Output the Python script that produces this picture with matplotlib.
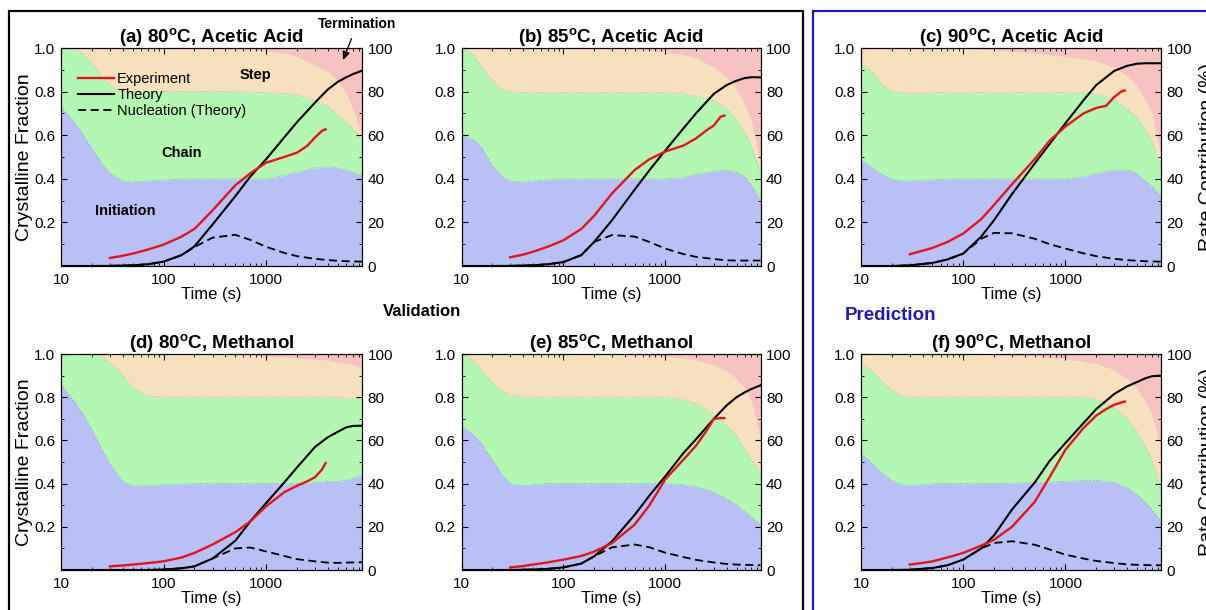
import matplotlib
matplotlib.use("Agg")
import matplotlib.pyplot as plt
from matplotlib.ticker import MultipleLocator, LogLocator, NullFormatter
from matplotlib.patches import Rectangle

plt.rcParams['font.family'] = ['Liberation Sans', 'DejaVu Sans']
plt.rcParams['mathtext.fontset'] = 'custom'
plt.rcParams['mathtext.rm'] = 'Liberation Sans'
plt.rcParams['mathtext.bf'] = 'Liberation Sans:bold'
plt.rcParams['mathtext.it'] = 'Liberation Sans:italic'

# ---------------- data ----------------
TITLES = ["(a) 80$^{\\mathbf{o}}$C, Acetic Acid", "(b) 85$^{\\mathbf{o}}$C, Acetic Acid",
          "(c) 90$^{\\mathbf{o}}$C, Acetic Acid", "(d) 80$^{\\mathbf{o}}$C, Methanol",
          "(e) 85$^{\\mathbf{o}}$C, Methanol", "(f) 90$^{\\mathbf{o}}$C, Methanol"]

X_TICKS = [10, 100, 1000]
X_TICK_LABELS = ["10", "100", "1000"]
Y_TICKS = [0.2, 0.4, 0.6, 0.8, 1.0]
Y_TICK_LABELS = ["0.2", "0.4", "0.6", "0.8", "1.0"]
Y2_TICKS = [0, 20, 40, 60, 80, 100]
Y2_TICK_LABELS = ["0", "20", "40", "60", "80", "100"]

# time grid for rate-contribution areas (s)
T_AREA = [10, 13, 16, 20, 25, 30, 40, 50, 70, 100, 200, 500, 1000, 1500, 2000, 3000, 4000, 5000, 6000, 7000, 8600]
# cumulative upper boundaries (%) : Initiation, +Chain, +Step ; Termination fills the rest to 100
INIT_TOP = [
    [73, 67, 61, 54, 47, 42.5, 39, 38.5, 39, 39.5, 40, 40, 40, 41.5, 43, 45, 45.5, 45, 44, 43, 41.5],
    [60, 58, 54, 46, 41, 39, 38.5, 39, 39.5, 40, 40, 40, 40, 40.5, 42, 43.5, 44, 43, 41, 37, 30],
    [48.5, 45, 42, 40, 39, 39, 39.5, 39.5, 40, 40, 40, 40, 40, 41, 42.5, 44, 44, 42.5, 39, 36.5, 32],
    [86, 79, 73, 65, 56, 49, 41, 39, 39, 39.5, 40, 40, 40, 40, 40, 40.5, 41, 41, 41.5, 42.5, 44],
    [66.5, 63, 58, 51, 44, 40, 39, 39.5, 40, 40, 40, 40, 40, 39.5, 38.5, 36, 33, 30, 27, 24.5, 21],
    [54, 49, 45, 41.5, 39.5, 39, 39.5, 40, 40, 40, 40, 40.5, 41, 41.5, 41.5, 40.5, 38, 35, 31.5, 28, 22.5],
]
CHAIN_TOP = [
    [100, 100, 98, 93, 87, 82.5, 80, 80, 80, 80, 80, 80, 79.5, 79, 78.5, 76, 73, 69, 66, 63, 58],
    [100, 97, 91, 85, 81, 80, 79.5, 79.5, 79.5, 79.5, 79.5, 79.5, 79.5, 79, 78, 76, 72, 67, 61, 55, 43],
    [93, 89, 83, 80, 79.5, 79, 79.5, 79.5, 79.5, 79.5, 79.5, 79.5, 79.5, 79.5, 79, 76.5, 72, 68, 62.5, 57, 46],
    [100, 100, 100, 100, 99, 96, 90, 84.5, 80.5, 80, 80, 80, 80, 80, 80, 80, 80, 80, 79.5, 79.5, 79.5],
    [100, 97, 92, 86.5, 83, 81, 80, 80, 80, 80, 80, 80, 80, 79, 77, 72, 67, 62, 56, 51, 45],
    [96, 92, 87, 83, 80.5, 80, 80, 80, 80, 80, 80, 80, 80, 80, 79, 75, 70, 64, 57, 51, 37],
]
STEP_TOP = [
    [100, 100, 100, 100, 100, 100, 100, 100, 100, 100, 100, 99.5, 98.5, 97.5, 96, 92, 89, 85, 79, 72, 59],
    [100, 100, 100, 100, 100, 100, 100, 100, 100, 100, 100, 99.5, 98, 97, 95.5, 91, 86.5, 81, 74, 66, 46],
    [100, 100, 100, 100, 100, 100, 100, 100, 100, 100, 99, 97.5, 96, 95, 94, 91, 87, 82.5, 76, 70, 50],
    [100, 100, 100, 100, 100, 100, 100, 100, 100, 100, 100, 100, 99, 98.5, 98, 97.5, 97, 96, 95.5, 95, 93.5],
    [100, 100, 100, 100, 100, 100, 100, 100, 100, 100, 100, 99.5, 99, 98, 97, 95, 92, 88.5, 84, 78, 60],
    [100, 100, 100, 100, 100, 100, 100, 100, 100, 100, 99.5, 99, 97.5, 96.5, 95.5, 92.5, 88.5, 84, 78, 72, 55.5],
]

# theory / nucleation curves (crystalline fraction)
T_THEORY = [10, 20, 30, 50, 70, 100, 150, 200, 300, 500, 700, 1000, 1500, 2000, 3000, 4000, 5000, 6000, 7000, 8600]
THEORY = [
    [0, 0, 0.0005, 0.003, 0.008, 0.02, 0.05, 0.09, 0.19, 0.32, 0.41, 0.49, 0.59, 0.66, 0.75, 0.81, 0.845, 0.865, 0.88, 0.896],
    [0, 0, 0.0005, 0.003, 0.008, 0.018, 0.05, 0.11, 0.21, 0.35, 0.44, 0.53, 0.63, 0.70, 0.79, 0.83, 0.85, 0.862, 0.866, 0.865],
    [0, 0, 0.003, 0.014, 0.03, 0.057, 0.135, 0.21, 0.33, 0.47, 0.56, 0.655, 0.76, 0.83, 0.895, 0.918, 0.928, 0.93, 0.93, 0.93],
    [0, 0, 0, 0, 0, 0.002, 0.008, 0.017, 0.053, 0.135, 0.225, 0.31, 0.405, 0.475, 0.57, 0.615, 0.64, 0.66, 0.667, 0.668],
    [0, 0, 0, 0.002, 0.005, 0.012, 0.03, 0.063, 0.133, 0.255, 0.345, 0.434, 0.54, 0.605, 0.70, 0.762, 0.80, 0.822, 0.838, 0.855],
    [0, 0, 0.001, 0.009, 0.022, 0.048, 0.10, 0.16, 0.28, 0.405, 0.505, 0.588, 0.68, 0.745, 0.815, 0.85, 0.87, 0.887, 0.897, 0.90],
]
NUCLEATION = [
    [0, 0, 0.0005, 0.003, 0.008, 0.02, 0.05, 0.087, 0.13, 0.143, 0.12, 0.088, 0.06, 0.045, 0.033, 0.027, 0.024, 0.022, 0.021, 0.02],
    [0, 0, 0.0005, 0.003, 0.008, 0.018, 0.05, 0.11, 0.142, 0.135, 0.11, 0.08, 0.055, 0.042, 0.032, 0.026, 0.025, 0.025, 0.025, 0.025],
    [0, 0, 0.003, 0.014, 0.03, 0.057, 0.125, 0.152, 0.15, 0.125, 0.10, 0.08, 0.058, 0.045, 0.033, 0.027, 0.024, 0.022, 0.021, 0.02],
    [0, 0, 0, 0, 0, 0.002, 0.008, 0.017, 0.053, 0.10, 0.104, 0.086, 0.065, 0.05, 0.04, 0.034, 0.033, 0.034, 0.035, 0.036],
    [0, 0, 0, 0.002, 0.005, 0.012, 0.03, 0.063, 0.105, 0.118, 0.105, 0.08, 0.06, 0.047, 0.035, 0.028, 0.025, 0.024, 0.023, 0.022],
    [0, 0, 0.001, 0.009, 0.022, 0.048, 0.10, 0.125, 0.133, 0.117, 0.095, 0.071, 0.053, 0.042, 0.032, 0.026, 0.024, 0.023, 0.022, 0.022],
]

# experiment curves
T_EXP = [30, 40, 50, 70, 100, 150, 200, 300, 500, 700, 1000, 1500, 2000, 2500, 3000, 3500, 3800]
EXPERIMENT = [
    [0.037, 0.047, 0.057, 0.075, 0.098, 0.135, 0.17, 0.255, 0.37, 0.425, 0.474, 0.50, 0.52, 0.55, 0.59, 0.62, 0.627],
    [0.04, 0.052, 0.065, 0.088, 0.118, 0.17, 0.23, 0.333, 0.44, 0.49, 0.525, 0.552, 0.585, 0.62, 0.645, 0.685, 0.69],
    [0.054, 0.07, 0.083, 0.11, 0.149, 0.215, 0.28, 0.375, 0.49, 0.575, 0.64, 0.70, 0.725, 0.735, 0.775, 0.80, 0.805],
    [0.017, 0.021, 0.025, 0.032, 0.04, 0.058, 0.079, 0.118, 0.175, 0.225, 0.295, 0.36, 0.39, 0.41, 0.43, 0.465, 0.495],
    [0.012, 0.018, 0.025, 0.035, 0.048, 0.065, 0.085, 0.125, 0.21, 0.30, 0.42, 0.51, 0.575, 0.64, 0.70, 0.703, 0.703],
    [0.025, 0.033, 0.04, 0.058, 0.079, 0.113, 0.14, 0.20, 0.315, 0.43, 0.557, 0.657, 0.715, 0.745, 0.765, 0.775, 0.78],
]

LEGEND_LABELS = ["Experiment", "Theory", "Nucleation (Theory)"]
REGION_LABELS = ["Initiation", "Chain", "Step", "Termination"]

# ---------------- styles ----------------
C_INIT = "#b9c0f6"
C_CHAIN = "#b3f7b3"
C_STEP = "#f7e0bd"
C_TERM = "#f7c2c2"
C_EXP = "#e3141c"
C_BLUE = "#1c1cb4"

W, H = 1206, 610
fig = plt.figure(figsize=(W / 100, H / 100), dpi=100)

col_left = [61, 461.5, 861]
col_w = [301, 299, 300]
row_top = [48, 354]
row_h = [218, 216]

for i in range(6):
    r, c = divmod(i, 3)
    l = col_left[c] / W
    b = 1 - (row_top[r] + row_h[r]) / H
    ax = fig.add_axes([l, b, col_w[c] / W, row_h[r] / H])
    ax2 = ax.twinx()
    ax.set_zorder(ax2.get_zorder() + 1)
    ax.patch.set_visible(False)

    # stacked rate-contribution areas on the right axis
    ax2.fill_between(T_AREA, 0, INIT_TOP[i], color=C_INIT, lw=0)
    ax2.fill_between(T_AREA, INIT_TOP[i], CHAIN_TOP[i], color=C_CHAIN, lw=0)
    ax2.fill_between(T_AREA, CHAIN_TOP[i], STEP_TOP[i], color=C_STEP, lw=0)
    ax2.fill_between(T_AREA, STEP_TOP[i], 100, color=C_TERM, lw=0)
    ax2.plot(T_AREA, INIT_TOP[i], color="#5a66c8", lw=0.6, ls=(0, (2, 2)), alpha=0.5)
    ax2.plot(T_AREA, CHAIN_TOP[i], color="#4a9a4a", lw=0.6, ls=(0, (2, 2)), alpha=0.4)
    ax2.set_ylim(0, 100)
    ax2.set_yticks(Y2_TICKS)
    ax2.set_yticklabels(Y2_TICK_LABELS)
    ax2.yaxis.set_minor_locator(MultipleLocator(10))
    ax2.tick_params(which='both', direction='in', labelsize=11, pad=4)
    ax2.tick_params(which='major', length=4, width=0.8)
    ax2.tick_params(which='minor', length=2, width=0.6)

    # curves on the left axis
    l1, = ax.plot(T_EXP, EXPERIMENT[i], color=C_EXP, lw=1.7, label=LEGEND_LABELS[0], zorder=4)
    l2, = ax.plot(T_THEORY, THEORY[i], color="black", lw=1.5, label=LEGEND_LABELS[1], zorder=3)
    l3, = ax.plot(T_THEORY, NUCLEATION[i], color="black", lw=1.3, ls=(0, (4.5, 2.5)),
                  label=LEGEND_LABELS[2], zorder=3)

    ax.set_xscale('log')
    ax.set_xlim(10, 8600)
    ax.set_ylim(0, 1)
    ax2.set_xlim(10, 8600)
    ax.set_xticks(X_TICKS)
    ax.set_xticklabels(X_TICK_LABELS)
    ax.xaxis.set_minor_locator(LogLocator(base=10, subs=range(2, 10), numticks=20))
    ax.xaxis.set_minor_formatter(NullFormatter())
    ax.set_yticks(Y_TICKS)
    ax.set_yticklabels(Y_TICK_LABELS)
    ax.yaxis.set_minor_locator(MultipleLocator(0.1))
    ax.tick_params(which='both', direction='in', top=True, labelsize=11)
    ax.tick_params(axis='y', pad=4)
    ax.tick_params(axis='x', pad=5)
    ax.tick_params(which='major', length=4, width=0.8)
    ax.tick_params(which='minor', length=2, width=0.6)
    for sp in ax.spines.values():
        sp.set_linewidth(0.8)

    ax.set_title(TITLES[i], fontsize=13.5, fontweight='bold', pad=4)
    ax.set_xlabel("Time (s)", fontsize=12, labelpad=0)
    if c == 0:
        ax.set_ylabel("Crystalline Fraction", fontsize=14, labelpad=1)
    if c == 2:
        ax2.set_ylabel("Rate Contribution (%)", fontsize=14, labelpad=5)

    if i == 0:
        ax.legend(handles=[l1, l2, l3], loc='upper left', bbox_to_anchor=(0.056, 0.89),
                  frameon=False, fontsize=10.5, handlelength=2.5, handletextpad=0.2,
                  labelspacing=0.15, borderpad=0, borderaxespad=0)
        ax.text(0.645, 0.876, REGION_LABELS[2], transform=ax.transAxes, fontsize=10.5,
                fontweight='bold', ha='center', va='center')
        ax.text(0.402, 0.518, REGION_LABELS[1], transform=ax.transAxes, fontsize=10.5,
                fontweight='bold', ha='center', va='center')
        ax.text(0.213, 0.252, REGION_LABELS[0], transform=ax.transAxes, fontsize=10.5,
                fontweight='bold', ha='center', va='center')
        ax.annotate(REGION_LABELS[3], xy=(0.937, 0.945), xycoords='axes fraction',
                    xytext=(0.985, 1.112), textcoords='axes fraction', fontsize=10,
                    fontweight='bold', ha='center', va='center', annotation_clip=False,
                    arrowprops=dict(arrowstyle='-|>,head_length=0.5,head_width=0.22',
                                    color='black', lw=0.9, shrinkA=4, shrinkB=0))

# group frames
fig.add_artist(Rectangle((9 / W, -0.05), (803 - 9) / W, 1 - 11 / H + 0.05,
                         transform=fig.transFigure, fill=False, ec='black', lw=1.6, clip_on=False))
fig.add_artist(Rectangle((813 / W, -0.05), 0.5, 1 - 11 / H + 0.05,
                         transform=fig.transFigure, fill=False, ec=C_BLUE, lw=1.6, clip_on=False))

fig.text(422 / W, 1 - 311 / H, "Validation", fontsize=12, fontweight='bold',
         ha='center', va='center')
fig.text(845 / W, 1 - 315 / H, "Prediction", fontsize=13.5, fontweight='bold',
         ha='left', va='center', color=C_BLUE)

fig.savefig("out.png", dpi=100)
